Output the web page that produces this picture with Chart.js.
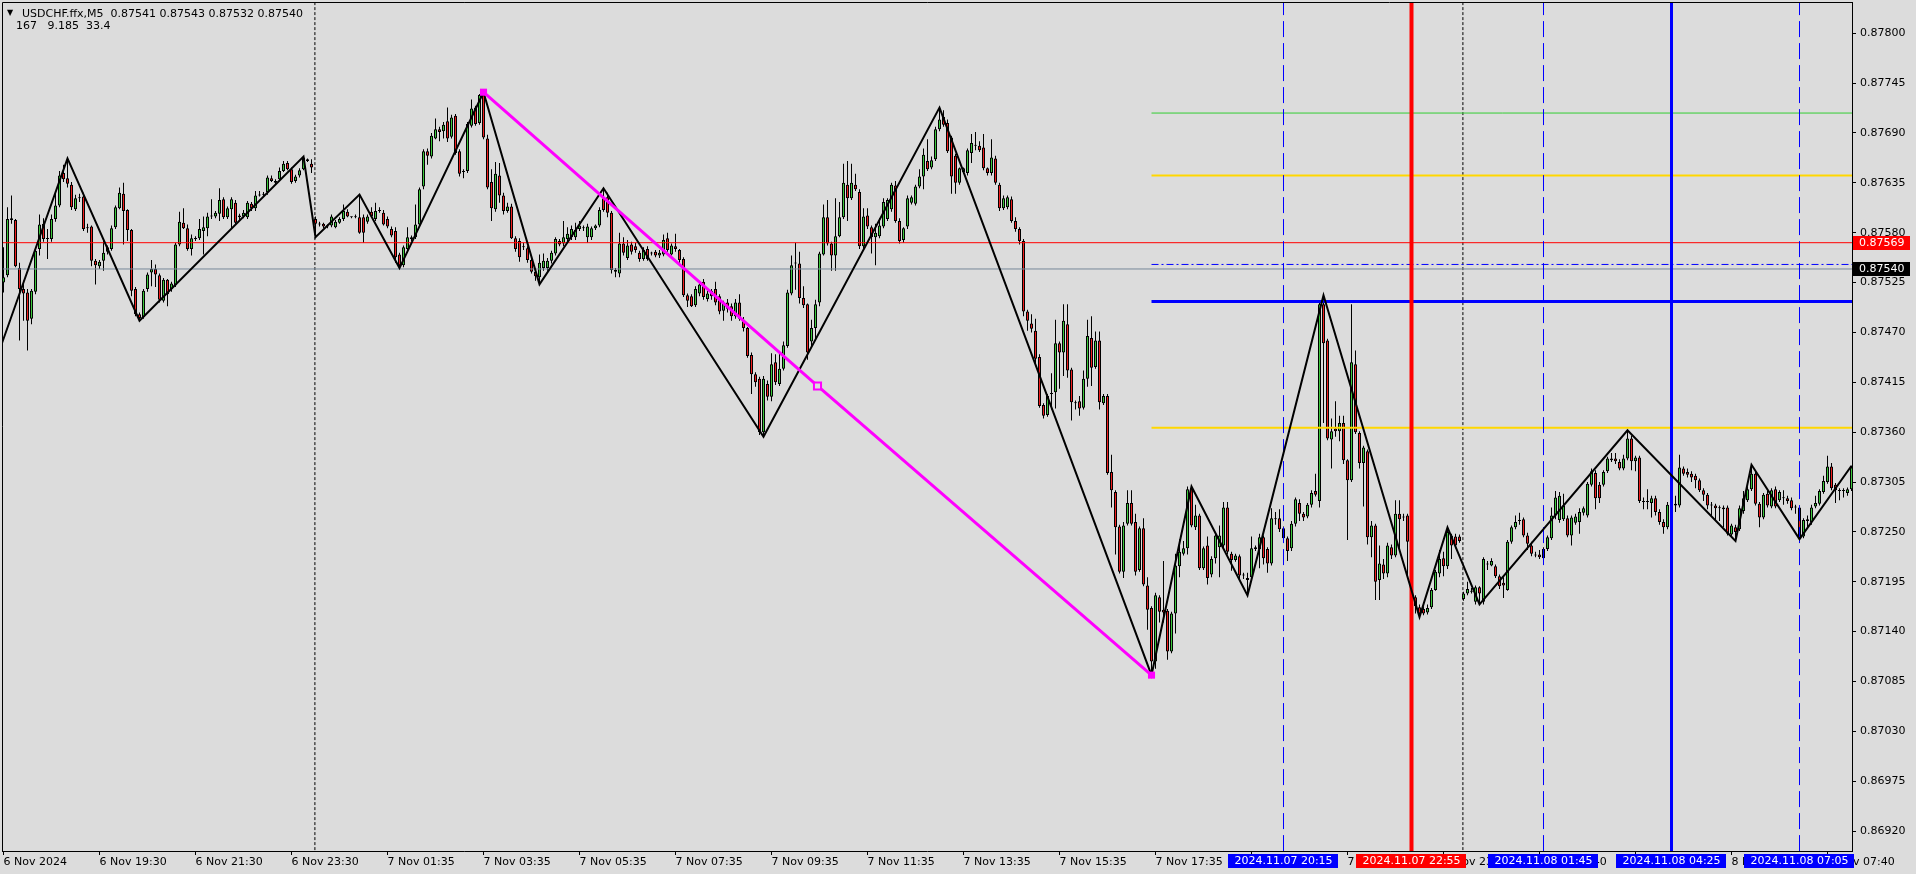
<!DOCTYPE html>
<html>
<head>
<meta charset="utf-8">
<title>USDCHF.ffx,M5</title>
<script src="https://cdn.jsdelivr.net/npm/chart.js@4.4.1/dist/chart.umd.min.js"></script>
<style>
  html, body { margin: 0; padding: 0; background: #dcdcdc; overflow: hidden; }
  #wrap { position: relative; width: 1916px; height: 874px; }
  #hdr span { position: absolute; font: 11px "DejaVu Sans"; color: #000; white-space: pre; line-height: 13px; }
</style>
</head>
<body>
<div id="wrap">
  <canvas id="chart" width="1916" height="874"></canvas>
  <div id="hdr">
    <span style="left:7px;top:6px;font-size:8px">▼</span>
    <span style="left:22px;top:7px">USDCHF.ffx,M5  0.87541 0.87543 0.87532 0.87540</span>
    <span style="left:16px;top:19px">167   9.185  33.4</span>
  </div>
</div>
<script>
// ── USDCHF M5 candles: values in points (0.00001) above BASE ──
const BASE = 0.87;
const PT = 0.00001;

// bar 0 = 6 Nov 17:30, one bar per 5 minutes
const O = [
  525,533,594,594,541,518,514,485,515,562, 590,573,573,595,610,646,640,633,606,618,
  620,585,587,549,543,549,559,562,586,607, 623,605,583,518,490,487,518,536,540,533,
  505,528,518,522,567,591,585,562,573,574, 582,585,598,598,601,617,597,606,613,597,
  598,597,612,607,621,622,625,640,635,639, 648,657,650,637,643,650,661,656,595,590,
  590,587,588,586,591,595,603,597,597,597, 597,592,603,595,604,602,595,584,582,556,
  544,562,573,575,589,631,670,664,684,694, 692,703,686,709,670,647,648,698,718,701,
  734,684,636,606,643,621,604,609,574,571, 565,563,550,537,531,541,541,549,557,571,
  568,573,575,575,584,585,575,575,585,588, 618,619,602,539,535,568,552,567,565,558,
  551,562,558,559,555,556,574,556,565,561, 551,511,510,500,513,526,507,516,518,510,
  494,503,499,488,503,484,475,445,424,419, 360,413,399,437,413,430,455,513,547,546,
  508,501,460,475,503,556,597,568,555,576, 597,633,618,633,625,565,599,586,575,576,
  587,595,606,632,593,572,587,613,612,631, 642,659,652,661,694,708,701,685,665,635,
  647,646,668,676,676,674,651,646,662,633, 607,608,617,593,584,571,493,480,472,443,
  390,379,402,404,458,448,479,429,393,394, 387,419,464,432,461,392,400,316,294,256,
  206,259,282,261,208,254,191,166,107,178, 164,163,118,160,212,226,232,298,255,268,
  210,235,203,221,233,235,277,226,219,223, 202,199,200,231,231,244,231,215,264,265,
  254,243,232,259,282,270,267,280,295,284, 501,461,352,364,361,370,329,307,435,359,
  326,339,244,257,197,214,204,233,224,270, 266,268,239,178,167,165,161,167,186,204,
  221,212,246,245,245,176,182,184,173,189, 173,214,213,212,201,194,186,239,255,263,
  264,246,235,225,225,221,231,243,268,263, 264,265,246,260,261,271,268,302,315,302,
  302,317,329,331,327,320,331,353,328,332, 284,284,282,287,272,261,255,279,279,279,
  320,316,314,312,307,296,291,280,279,277, 277,277,247,255,253,273,285,297,314,281,
  266,292,278,297,285,287,287,285,277,277, 245,262,261,278,281,294,305,322,302,296,
  295,293,297
];
const H = [
  564,608,621,595,547,527,518,518,563,600, 596,584,600,625,648,655,662,636,622,623,
  624,590,588,551,550,571,566,588,610,630, 635,606,584,520,492,518,536,550,545,535,
  530,529,526,569,603,607,589,578,576,595, 598,602,617,604,629,619,609,619,616,601,
  605,615,614,626,626,625,643,643,639,652, 659,659,652,644,651,664,662,661,598,592,
  591,589,600,594,597,611,606,598,600,622, 600,600,608,613,608,605,598,587,586,558,
  566,586,577,611,630,672,673,690,706,697, 702,718,710,711,672,650,702,727,720,733,
  735,688,650,658,657,624,613,612,576,574, 569,565,552,539,556,557,552,560,575,573,
  593,586,588,591,593,588,590,587,589,608, 629,624,604,541,580,575,572,570,569,560,
  564,565,559,561,561,578,580,568,579,562, 553,513,512,521,526,529,516,518,526,512,
  505,507,502,507,512,487,476,448,426,421, 422,417,447,446,447,460,517,555,569,559,
  521,502,484,506,559,611,616,570,618,614, 656,659,656,645,628,607,607,588,590,596,
  618,618,635,637,596,586,621,621,633,650, 673,683,664,697,718,715,705,687,667,652,
  652,673,689,691,681,689,652,683,665,635, 621,621,620,597,586,573,495,490,485,446,
  392,402,425,484,460,501,501,431,395,400, 428,484,488,471,471,402,402,335,296,258,
  261,296,296,270,256,265,200,168,183,180, 218,165,162,226,242,240,300,300,280,270,
  234,245,223,250,257,283,283,228,226,225, 205,205,245,235,248,246,233,276,272,275,
  256,245,262,288,286,272,282,296,314,504, 511,463,375,394,378,378,330,501,450,361,
  345,341,262,259,235,220,238,236,285,285, 270,270,240,180,170,168,170,188,208,230,
  228,255,248,248,247,184,195,188,191,190, 222,218,221,214,203,200,241,257,268,271,
  266,249,239,228,230,233,246,277,295,294, 292,268,268,270,276,278,305,320,318,305,
  318,333,337,337,330,335,362,356,334,334, 288,297,290,290,275,264,283,285,290,335,
  322,320,317,314,309,298,293,283,281,279, 279,279,259,258,279,295,300,324,316,283,
  293,295,298,300,296,296,290,288,280,279, 265,268,280,290,297,312,334,326,304,298,
  298,299,323
];
const L = [
  514,531,590,542,461,483,450,479,512,555, 570,551,570,592,608,636,630,605,604,614,
  582,580,543,523,540,538,556,560,584,606, 567,571,510,488,483,485,515,521,520,503,
  503,499,515,520,565,584,560,555,571,572, 556,576,595,596,593,595,595,585,589,594,
  596,595,604,604,620,620,622,636,633,638, 647,649,634,635,641,649,658,646,575,587,
  585,585,586,585,590,593,597,596,596,579, 569,590,597,593,602,588,585,575,547,541,
  542,558,571,573,587,628,655,662,683,681, 684,680,684,666,642,640,646,696,698,699,
  683,628,593,603,613,600,602,573,559,548, 561,547,535,527,523,538,538,546,555,565,
  565,569,572,572,582,582,569,572,583,586, 603,597,535,531,531,555,550,556,558,548,
  549,549,555,553,552,554,559,555,559,547, 509,498,498,498,510,506,504,506,500,490,
  483,492,483,485,483,471,442,402,410,357, 355,395,394,412,411,428,453,511,517,502,
  497,440,455,462,499,555,566,538,538,575, 595,593,616,626,562,562,584,557,544,574,
  585,593,603,591,568,569,584,611,610,629, 628,648,650,659,692,697,668,623,623,633,
  645,643,657,671,669,649,643,643,633,604, 605,606,591,581,567,488,472,470,435,387,
  375,377,385,386,408,422,420,373,385,378, 385,410,411,430,385,390,313,277,225,204,
  199,257,257,202,206,190,142,92,99,150,   150,109,116,138,200,224,225,255,252,208,
  208,192,200,215,200,230,225,207,217,196, 198,180,198,229,210,214,205,213,258,250,
  240,218,229,256,262,262,265,277,289,277, 370,351,320,355,350,325,241,305,358,320,
  278,236,222,175,175,198,200,220,222,230, 262,200,166,160,156,158,159,165,185,200,
  201,209,220,232,238,174,180,182,170,170, 170,208,212,199,187,177,185,237,253,258,
  244,230,223,222,220,218,229,241,264,260, 262,244,235,258,248,268,266,300,275,282,
  300,315,327,325,318,318,329,318,317,282, 275,275,266,268,258,248,253,275,272,277,
  312,310,305,298,294,284,275,268,262,262, 255,246,245,240,251,270,283,295,279,255,
  264,277,276,276,283,280,281,274,270,242, 243,255,258,276,279,292,303,296,282,285,
  288,290,295
];
const C = [
  531,595,596,543,518,513,483,516,560,589, 573,574,595,610,643,639,634,608,618,619,
  584,586,549,544,548,558,564,585,608,624, 604,583,516,490,486,516,534,540,534,506,
  528,512,524,567,592,585,562,574,574,584, 586,598,599,602,616,597,607,617,591,599,
  602,613,607,621,622,623,641,637,637,648, 656,650,636,642,649,663,659,652,590,589,
  587,587,598,592,595,604,598,597,598,580, 580,598,598,604,604,589,587,577,553,544,
  564,575,575,589,628,670,665,687,694,691, 699,684,707,668,645,647,700,717,700,732,
  685,630,607,645,621,604,609,574,562,553, 564,550,537,532,547,549,549,558,573,567,
  575,579,584,583,588,586,587,585,588,605, 605,602,539,537,568,558,566,559,561,551,
  561,551,557,555,558,572,561,566,562,550, 511,505,499,518,523,509,513,510,503,493,
  503,496,488,503,485,475,444,424,415,360, 419,399,435,415,430,456,514,544,546,508,
  500,448,475,501,557,597,568,555,576,597, 635,618,635,628,565,598,587,575,580,588,
  614,616,633,593,571,585,618,619,631,642, 666,650,660,694,705,699,670,642,635,651,
  651,671,679,677,671,651,646,663,635,607, 618,619,593,584,571,493,483,474,441,389,
  378,400,403,458,448,483,428,393,392,386, 419,466,431,461,393,400,315,296,255,206,
  257,282,259,206,254,192,164,107,180,162, 161,118,160,213,228,232,297,257,268,210,
  232,199,220,246,246,277,228,219,224,202, 202,197,232,233,244,221,215,265,265,253,
  243,229,259,286,270,266,280,293,291,501, 458,353,361,361,370,329,307,437,360,326,
  343,244,257,195,215,204,235,224,270,264, 267,239,174,168,160,160,166,186,206,220,
  212,250,235,235,240,182,187,184,189,182, 220,215,218,201,190,191,239,255,261,262,
  246,237,226,224,222,231,244,268,288,290, 279,246,266,267,272,276,303,317,287,287,
  316,331,331,328,320,331,353,328,332,284, 283,283,287,272,261,255,280,279,281,321,
  314,313,310,307,296,291,279,279,276,276, 275,248,257,250,276,287,297,314,281,266,
  291,279,296,278,294,287,284,276,277,244, 263,264,277,282,295,306,322,298,296,295,
  296,297,321
];

// ZigZag pivots (bar index, points)
const zigIdx = [-2, 16, 34, 75, 78, 89, 99, 120, 134, 150, 190, 234, 287, 297, 311, 330, 354, 361, 369, 406, 433, 437, 449, 462];
const zigPts = [438, 662, 483, 664, 575, 622, 541, 735, 523, 629, 355, 718, 92, 300, 180, 511, 156, 255, 170, 362, 240, 324, 242, 323];

// magenta trend line: ends and middle handle
const trendIdx = [120, 203.5, 287];
const trendPts = [735, 411, 92];

// price levels
const lineRed = 0.87569;
const lineBid = 0.87540;
const levelStart = 287;
const levelGreen = 0.87712;
const levelGold1 = 0.87643;
const levelAsk = 0.87545;
const levelBlue = 0.87504;
const levelGold2 = 0.87365;

// vertical lines
const vIdx = [320, 352, 385, 417, 449];
const vText = ['2024.11.07 20:15', '2024.11.07 22:55', '2024.11.08 01:45', '2024.11.08 04:25', '2024.11.08 07:05'];
const daySep = [77.85, 364.85];

// axis ticks
const xTickIdx = [0, 24, 48, 72, 96, 120, 144, 168, 192, 216, 240, 264, 288, 312, 336, 360, 384, 408, 432, 456];
const xTickText = ['6 Nov 2024', '6 Nov 19:30', '6 Nov 21:30', '6 Nov 23:30', '7 Nov 01:35', '7 Nov 03:35',
  '7 Nov 05:35', '7 Nov 07:35', '7 Nov 09:35', '7 Nov 11:35', '7 Nov 13:35', '7 Nov 15:35', '7 Nov 17:35',
  '7 Nov 19:35', '7 Nov 21:35', '7 Nov 23:35', '8 Nov 01:40', '8 Nov 03:40', '8 Nov 05:40', '8 Nov 07:40'];
const yTicks = [0.87800, 0.87745, 0.87690, 0.87635, 0.87580, 0.87525, 0.87470, 0.87415, 0.87360,
  0.87305, 0.87250, 0.87195, 0.87140, 0.87085, 0.87030, 0.86975, 0.86920];

// ── styles ──
const BG = '#dcdcdc';
const BULL = '#3cc83c';
const BEAR = '#f01e1e';
const vColor = ['#0000ff', '#ff0000', '#0000ff', '#0000ff', '#0000ff'];
const vWidth = [1, 4, 1, 3, 1];
const vDash = [[16, 6], [], [16, 6], [], [16, 6]];
const FONT = '11px "DejaVu Sans"';

const price = v => +(BASE + v * PT).toFixed(5);

const bodyData = O.map((o, i) => ({ x: i, y: [price(Math.min(o, C[i])), price(Math.max(o, C[i]))] }));
const wickData = O.map((o, i) => ({ x: i, y: [price(Math.min(L[i], o, C[i])), price(Math.max(H[i], o, C[i]))] }));

function hline(v, from, color, width, dash, order) {
  return { type: 'line', data: [{ x: from, y: v }, { x: 470, y: v }], borderColor: color, borderWidth: width,
    borderDash: dash, pointRadius: 0, order: order };
}
function vline(i, color, width, dash, order) {
  return { type: 'line', data: [{ x: i, y: 0.86 }, { x: i, y: 0.89 }], borderColor: color, borderWidth: width,
    borderDash: dash, pointRadius: 0, order: order };
}

const datasets = [
  { type: 'bar', data: bodyData, barThickness: 3, minBarLength: 1, grouped: false, inflateAmount: 0,
    borderSkipped: false, borderWidth: 1, borderColor: '#000',
    backgroundColor: ctx => C[ctx.dataIndex] >= O[ctx.dataIndex] ? BULL : BEAR, order: 20 },
  { type: 'bar', data: wickData, barThickness: 1, grouped: false, inflateAmount: 0, borderWidth: 0,
    backgroundColor: '#000', order: 21 },
  { type: 'line', data: zigIdx.map((x, k) => ({ x, y: price(zigPts[k]) })), borderColor: '#000', borderWidth: 2,
    pointRadius: 0, tension: 0, order: 3 },
  { type: 'line', data: trendIdx.map((x, k) => ({ x, y: price(trendPts[k]) })), borderColor: '#ff00ff', borderWidth: 3,
    pointStyle: 'rect', pointRadius: 5, pointBorderWidth: [0, 2, 0], pointBorderColor: '#ff00ff',
    pointBackgroundColor: ['#ff00ff', BG, '#ff00ff'], order: 1 },
  hline(lineRed, -5, '#ff0000', 1, [], 6),
  hline(lineBid, -5, '#778899', 1, [], 6),
  hline(levelGreen, levelStart, '#32cd32', 1, [], 5),
  hline(levelGold1, levelStart, '#ffd700', 2, [], 5),
  hline(levelAsk, levelStart, '#0000ff', 1, [7, 3, 2, 3], 5),
  hline(levelBlue, levelStart, '#0000ff', 3, [], 5),
  hline(levelGold2, levelStart, '#ffd700', 2, [], 5),
  ...daySep.map(i => vline(i, '#000', 1, [3, 2], 30)),
  ...vIdx.map((i, k) => vline(i, vColor[k], vWidth[k], vDash[k], 4))
];

// frame, price tags on the axis and time tags under the vertical lines
const overlay = {
  id: 'overlay',
  afterDraw(chart) {
    const { ctx, chartArea: a, scales: { x, y } } = chart;
    ctx.save();
    ctx.strokeStyle = '#000';
    ctx.lineWidth = 1;
    ctx.beginPath();
    ctx.moveTo(a.left + 0.5, a.bottom);
    ctx.lineTo(a.left + 0.5, a.top + 0.5);
    ctx.lineTo(a.right, a.top + 0.5);
    ctx.stroke();

    ctx.font = FONT;
    ctx.textBaseline = 'middle';
    [[lineRed, '#ff0000'], [lineBid, '#000000']].forEach(([v, bg]) => {
      const py = Math.round(y.getPixelForValue(v));
      ctx.fillStyle = bg;
      ctx.fillRect(a.right + 1, py - 7, 57, 14);
      ctx.fillStyle = '#fff';
      ctx.textAlign = 'left';
      ctx.fillText(v.toFixed(5), a.right + 7, py + 0.5);
    });

    vIdx.forEach((i, k) => {
      const cx = x.getPixelForValue(i);
      const w = ctx.measureText(vText[k]).width + 12;
      ctx.fillStyle = vColor[k];
      ctx.fillRect(Math.round(cx - w / 2), a.bottom + 3, Math.round(w), 14);
      ctx.fillStyle = '#fff';
      ctx.textAlign = 'center';
      ctx.fillText(vText[k], cx, a.bottom + 10.5);
    });
    ctx.restore();
  }
};

Chart.defaults.font.family = 'DejaVu Sans';
Chart.defaults.font.size = 11;
Chart.defaults.color = '#000';

// keep the plot frame fixed: no extra room for half tick labels
function noPad(s) {
  s.paddingTop = 0; s.paddingBottom = 0; s.paddingLeft = 0; s.paddingRight = 0;
}

new Chart(document.getElementById('chart'), {
  type: 'bar',
  data: { datasets },
  options: {
    responsive: false,
    animation: false,
    devicePixelRatio: 1,
    events: [],
    layout: { autoPadding: false, padding: { left: 2, top: 2, right: 0, bottom: 0 } },
    plugins: { legend: { display: false }, tooltip: { enabled: false } },
    scales: {
      x: {
        type: 'linear', min: -0.375, max: 462.125, offset: false,
        afterBuildTicks: s => { s.ticks = xTickIdx.map(v => ({ value: v })); },
        afterFit: s => { s.height = 23; noPad(s); },
        grid: { display: true, drawOnChartArea: false, offset: false, tickLength: 4, color: '#000' },
        border: { display: true, color: '#000', width: 1 },
        ticks: { autoSkip: false, maxRotation: 0, minRotation: 0, align: 'start', padding: 1,
          callback: v => xTickText[xTickIdx.indexOf(v)] }
      },
      y: {
        position: 'right', min: 0.868980, max: 0.878345,
        afterBuildTicks: s => { s.ticks = yTicks.map(v => ({ value: v })); },
        afterFit: s => { s.width = 64; noPad(s); },
        grid: { display: true, drawOnChartArea: false, tickLength: 4, color: '#000' },
        border: { display: true, color: '#000', width: 1 },
        ticks: { autoSkip: false, padding: 4, callback: v => v.toFixed(5) }
      }
    }
  },
  plugins: [overlay]
});
</script>
</body>
</html>
